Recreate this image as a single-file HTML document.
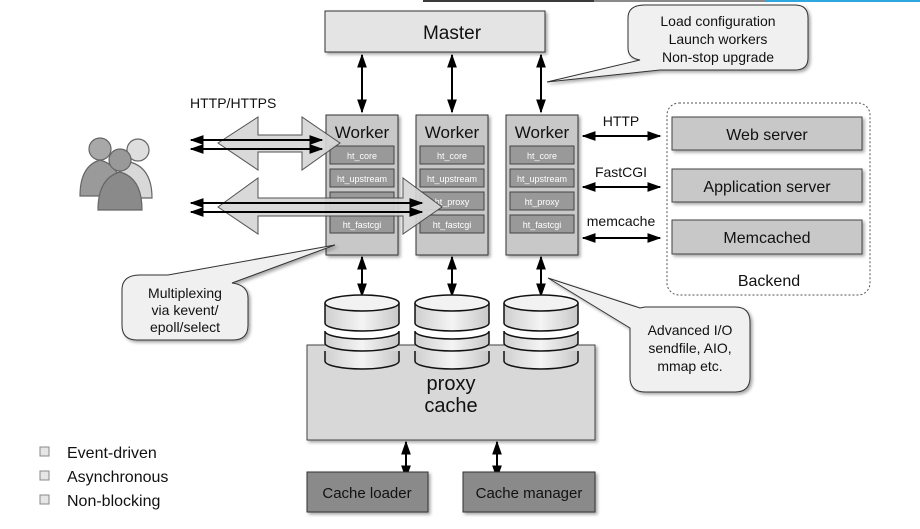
<!DOCTYPE html>
<html><head><meta charset="utf-8"><style>
html,body{margin:0;padding:0;background:#fff;width:920px;height:529px;overflow:hidden}
text{font-family:"Liberation Sans",sans-serif;fill:#111}
text.w{fill:#fff}
</style></head><body>
<svg width="920" height="529" viewBox="0 0 920 529" xmlns="http://www.w3.org/2000/svg">
<defs>
<marker id="ah" viewBox="0 0 10 10" refX="9" refY="5" markerWidth="7" markerHeight="7" orient="auto-start-reverse"><path d="M0,1.5 L10,5 L0,8.5 Z" fill="#000"/></marker>
<filter id="sh" x="-10%" y="-10%" width="130%" height="130%"><feDropShadow dx="2" dy="2" stdDeviation="1.5" flood-color="#000" flood-opacity="0.35"/></filter>
<linearGradient id="cg" x1="0" x2="1"><stop offset="0" stop-color="#cfcfcf"/><stop offset="0.5" stop-color="#f4f4f4"/><stop offset="1" stop-color="#c8c8c8"/></linearGradient>
</defs>
<rect x="423" y="0" width="171" height="2" fill="#3a3a3a"/>
<rect x="594" y="0" width="172" height="2" fill="#8a8a8a"/>
<rect x="766" y="0" width="154" height="2" fill="#2ea6e0"/>

<rect x="325" y="11" width="220" height="41" fill="#e4e4e4" stroke="#333" filter="url(#sh)"/>
<text x="452" y="39" font-size="19" text-anchor="middle">Master</text>

<path d="M645,5 H795 Q808,5 808,18 V58 Q808,70 795,70 H660 L547,82 L640,60 Q628,58 628,48 V18 Q628,5 645,5 Z" fill="#f0f0f0" stroke="#333" filter="url(#sh)"/>
<text x="718" y="26" font-size="14" text-anchor="middle">Load configuration</text>
<text x="718" y="44" font-size="14" text-anchor="middle">Launch workers</text>
<text x="718" y="62" font-size="14" text-anchor="middle">Non-stop upgrade</text>

<g stroke="#000" stroke-width="2" marker-start="url(#ah)" marker-end="url(#ah)">
<line x1="362" y1="55" x2="362" y2="112"/><line x1="452" y1="55" x2="452" y2="112"/><line x1="541" y1="55" x2="541" y2="112"/>
<line x1="362" y1="257" x2="362" y2="296"/><line x1="452" y1="257" x2="452" y2="296"/><line x1="541" y1="257" x2="541" y2="296"/>
<line x1="406" y1="442" x2="406" y2="478"/><line x1="497" y1="442" x2="497" y2="478"/>
</g>

<g font-size="9">
<rect x="326" y="115" width="72" height="140" fill="#c8c8c8" stroke="#333" filter="url(#sh)"/>
<rect x="416" y="115" width="72" height="140" fill="#c8c8c8" stroke="#333" filter="url(#sh)"/>
<rect x="506" y="115" width="72" height="140" fill="#c8c8c8" stroke="#333" filter="url(#sh)"/>
<g font-size="17"><text x="362" y="138" text-anchor="middle">Worker</text><text x="452" y="138" text-anchor="middle">Worker</text><text x="542" y="138" text-anchor="middle">Worker</text></g>
<g fill="#999" stroke="#444">
<rect x="330" y="146" width="64" height="18"/><rect x="330" y="169" width="64" height="18"/><rect x="330" y="192" width="64" height="18"/><rect x="330" y="215" width="64" height="18"/>
<rect x="420" y="146" width="64" height="18"/><rect x="420" y="169" width="64" height="18"/><rect x="420" y="192" width="64" height="18"/><rect x="420" y="215" width="64" height="18"/>
<rect x="510" y="146" width="64" height="18"/><rect x="510" y="169" width="64" height="18"/><rect x="510" y="192" width="64" height="18"/><rect x="510" y="215" width="64" height="18"/>
</g>
<g text-anchor="middle">
<text class="w" x="362" y="159">ht_core</text><text class="w" x="362" y="182">ht_upstream</text><text class="w" x="362" y="228">ht_fastcgi</text>
<text class="w" x="452" y="159">ht_core</text><text class="w" x="452" y="182">ht_upstream</text><text class="w" x="452" y="205">ht_proxy</text><text class="w" x="452" y="228">ht_fastcgi</text>
<text class="w" x="542" y="159">ht_core</text><text class="w" x="542" y="182">ht_upstream</text><text class="w" x="542" y="205">ht_proxy</text><text class="w" x="542" y="228">ht_fastcgi</text>
</g>
</g>

<path d="M218,143 L258,117 V135 H302 V117 L340,143 L302,170 V152 H258 V170 Z" fill="#d6d6d6" stroke="#444" opacity="0.92"/>
<path d="M218,207 L258,178 V198 H403 V178 L442,207 L403,234 V216 H258 V234 Z" fill="#d6d6d6" stroke="#444" opacity="0.92"/>
<g stroke="#000" stroke-width="2" marker-start="url(#ah)" marker-end="url(#ah)">
<line x1="191" y1="140" x2="322" y2="140"/><line x1="191" y1="149" x2="322" y2="149"/>
<line x1="191" y1="203" x2="422" y2="203"/><line x1="191" y1="212" x2="422" y2="212"/>
</g>
<text x="190" y="108" font-size="14">HTTP/HTTPS</text>

<g stroke="#666" stroke-width="1.2">
<path d="M108,198 Q108,168 130,162 Q152,168 152,198 Z" fill="#d8d8d8"/>
<circle cx="138" cy="150" r="11" fill="#dedede"/>
<path d="M80,196 Q80,166 100,160 Q122,166 122,196 Z" fill="#9a9a9a"/>
<circle cx="100" cy="149" r="11" fill="#a8a8a8"/>
<path d="M98,210 Q98,178 120,172 Q142,178 142,210 Z" fill="#8a8a8a"/>
<circle cx="120" cy="160" r="11" fill="#999"/>
</g>

<path d="M140,275 H168 L335,245 L232,283 Q248,285 248,298 V325 Q248,340 233,340 H137 Q122,340 122,325 V290 Q122,275 140,275 Z" fill="#f0f0f0" stroke="#333" filter="url(#sh)"/>
<text x="185" y="298" font-size="14" text-anchor="middle">Multiplexing</text>
<text x="185" y="315" font-size="14" text-anchor="middle">via kevent/</text>
<text x="185" y="332" font-size="14" text-anchor="middle">epoll/select</text>

<rect x="667" y="103" width="203" height="192" rx="12" fill="none" stroke="#555" stroke-dasharray="2,2"/>
<g fill="#c8c8c8" stroke="#444" filter="url(#sh)">
<rect x="672" y="117" width="190" height="33"/><rect x="672" y="169" width="190" height="33"/><rect x="672" y="220" width="190" height="34"/>
</g>
<g font-size="16" text-anchor="middle">
<text x="767" y="140">Web server</text><text x="767" y="192">Application server</text><text x="767" y="243">Memcached</text>
<text x="769" y="286">Backend</text>
</g>
<g stroke="#000" stroke-width="2" marker-start="url(#ah)" marker-end="url(#ah)">
<line x1="583" y1="136" x2="660" y2="136"/><line x1="583" y1="187" x2="660" y2="187"/><line x1="583" y1="238" x2="660" y2="238"/>
</g>
<g font-size="14" text-anchor="middle"><text x="621" y="126">HTTP</text><text x="621" y="177">FastCGI</text><text x="621" y="226">memcache</text></g>

<rect x="307" y="345" width="288" height="95" fill="#d8d8d8" stroke="#444" filter="url(#sh)"/>
<text x="451" y="390" font-size="20" text-anchor="middle">proxy</text>
<text x="451" y="412" font-size="20" text-anchor="middle">cache</text>
<g stroke="#111" stroke-width="1.5" fill="url(#cg)">
<g id="cyl">
<path d="M325,351 V361 A37,8 0 0 0 399,361 V351"/>
<path d="M325,331 V343 A37,8 0 0 0 399,343 V331 A37,8 0 0 1 325,331 Z"/>
<path d="M325,303 V323 A37,8 0 0 0 399,323 V303"/>
<ellipse cx="362" cy="303" rx="37" ry="8" fill="#f2f2f2"/>
</g>
<use href="#cyl" x="90"/><use href="#cyl" x="179"/>
</g>

<path d="M645,307 H735 Q750,307 750,322 V377 Q750,392 735,392 H645 Q630,392 630,377 V328 L548,278 L640,308 Z" fill="#f0f0f0" stroke="#333" filter="url(#sh)"/>
<text x="690" y="335" font-size="14" text-anchor="middle">Advanced I/O</text>
<text x="690" y="353" font-size="14" text-anchor="middle">sendfile, AIO,</text>
<text x="690" y="371" font-size="14" text-anchor="middle">mmap etc.</text>

<rect x="307" y="472" width="121" height="40" fill="#8a8a8a" stroke="#333" filter="url(#sh)"/>
<rect x="463" y="472" width="132" height="40" fill="#8a8a8a" stroke="#333" filter="url(#sh)"/>
<text x="367" y="498" font-size="15" text-anchor="middle">Cache loader</text>
<text x="529" y="498" font-size="15" text-anchor="middle">Cache manager</text>

<g fill="#e6e6e6" stroke="#888"><rect x="40" y="447" width="9" height="9"/><rect x="40" y="471" width="9" height="9"/><rect x="40" y="495" width="9" height="9"/></g>
<g font-size="16"><text x="67" y="458">Event-driven</text><text x="67" y="482">Asynchronous</text><text x="67" y="506">Non-blocking</text></g>
</svg>
</body></html>
